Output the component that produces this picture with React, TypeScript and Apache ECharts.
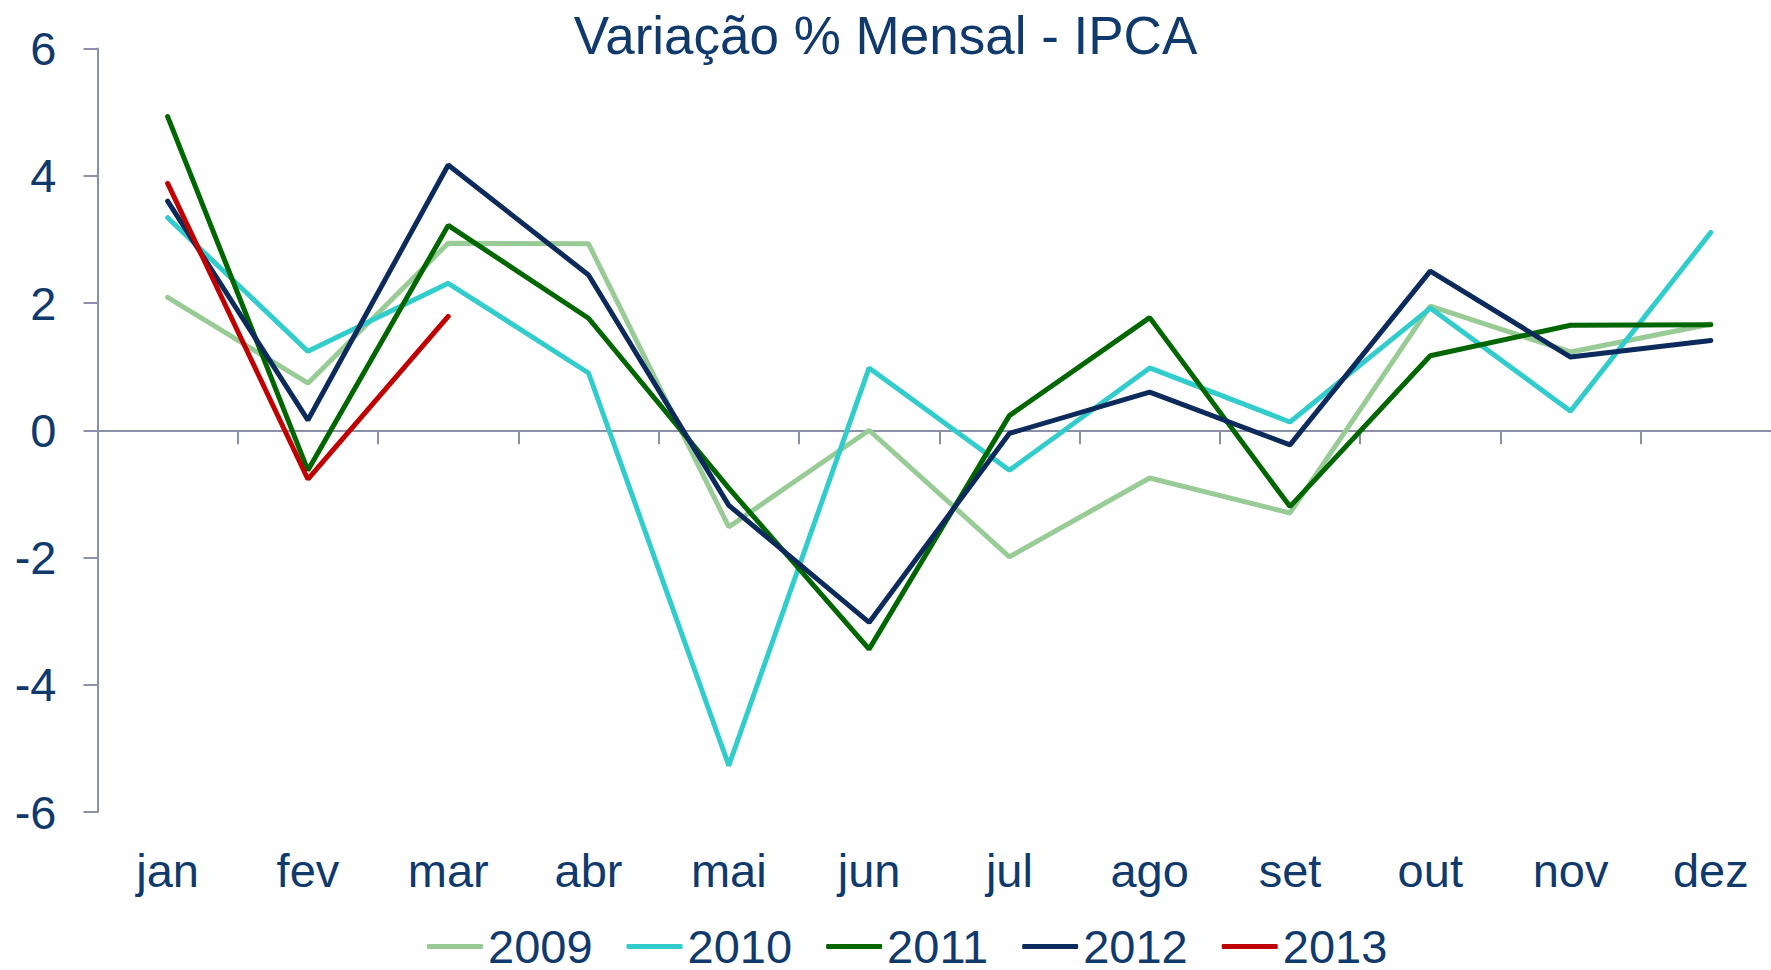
import React, { useEffect, useRef } from "react";
import * as echarts from "echarts";

const months = ["jan", "fev", "mar", "abr", "mai", "jun", "jul", "ago", "set", "out", "nov", "dez"];
const years = ["2009", "2010", "2011", "2012", "2013"];
const s2009 = [2.09, 0.74, 2.94, 2.93, -1.52, 0.0, -1.99, -0.75, -1.3, 1.95, 1.23, 1.67];
const s2010 = [3.34, 1.24, 2.31, 0.9, -5.27, 0.98, -0.63, 0.98, 0.13, 1.92, 0.3, 3.11];
const s2011 = [4.93, -0.63, 3.22, 1.76, -0.91, -3.44, 0.23, 1.77, -1.2, 1.17, 1.65, 1.66];
const s2012 = [3.6, 0.16, 4.17, 2.44, -1.18, -3.02, -0.05, 0.6, -0.23, 2.5, 1.15, 1.41];
const s2013 = [3.88, -0.77, 1.79];
const seriesValues = [s2009, s2010, s2011, s2012, s2013];
const colors = ["#98CB95", "#33CCCC", "#006600", "#0C2B5C", "#C00000"];

const FONT = "'Liberation Sans', Arial, sans-serif";
const TEXT = "#10396C";
const AXIS = "#8C8FA8";

export default function App() {
  const ref = useRef<HTMLDivElement>(null);
  useEffect(() => {
    if (!ref.current) return;
    const chart = echarts.init(ref.current, null, { renderer: "svg" });
    chart.setOption({
      animation: false,
      backgroundColor: "#ffffff",
      title: {
        text: "Variação % Mensal - IPCA",
        left: "center",
        top: 9,
        padding: 0,
        textStyle: { fontFamily: FONT, fontSize: 53, fontWeight: "normal", color: TEXT },
      },
      legend: {
        data: years,
        left: 427,
        top: 923,
        padding: 0,
        itemWidth: 56,
        itemHeight: 5,
        itemGap: 34,
        icon: "roundRect",
        textStyle: { fontFamily: FONT, fontSize: 47, lineHeight: 40, color: TEXT, padding: 0 },
      },
      grid: {
        left: 97.5,
        width: 1683.5,
        top: 48.5,
        bottom: 158,
        containLabel: false,
        outerBoundsMode: "none",
      },
      xAxis: [
        {
          type: "category",
          data: months,
          position: "bottom",
          axisLine: { show: false, onZero: false },
          axisTick: { show: false },
          axisLabel: { fontFamily: FONT, fontSize: 47, color: TEXT, margin: 35 },
        },
        {
          type: "category",
          data: months,
          position: "bottom",
          axisLine: { show: true, onZero: true, lineStyle: { color: AXIS, width: 2 } },
          axisTick: { show: true, length: 14, lineStyle: { color: AXIS, width: 2 } },
          axisLabel: { show: false },
        },
      ],
      yAxis: {
        type: "value",
        min: -6,
        max: 6,
        interval: 2,
        axisLine: { show: true, lineStyle: { color: AXIS, width: 2 } },
        axisTick: { show: true, length: 14, lineStyle: { color: AXIS, width: 2 } },
        splitLine: { show: false },
        axisLabel: { fontFamily: FONT, fontSize: 47, color: TEXT, margin: 41 },
      },
      series: years.map((y, i) => ({
        name: y,
        type: "line",
        xAxisIndex: 0,
        data: seriesValues[i],
        symbol: "none",
        color: colors[i],
        lineStyle: { color: colors[i], width: 5, cap: "round" },
      })),
    });
    return () => chart.dispose();
  }, []);
  return (
    <div
      ref={ref}
      style={{ position: "fixed", left: 0, top: 0, width: 1771, height: 970, background: "#fff" }}
    />
  );
}
